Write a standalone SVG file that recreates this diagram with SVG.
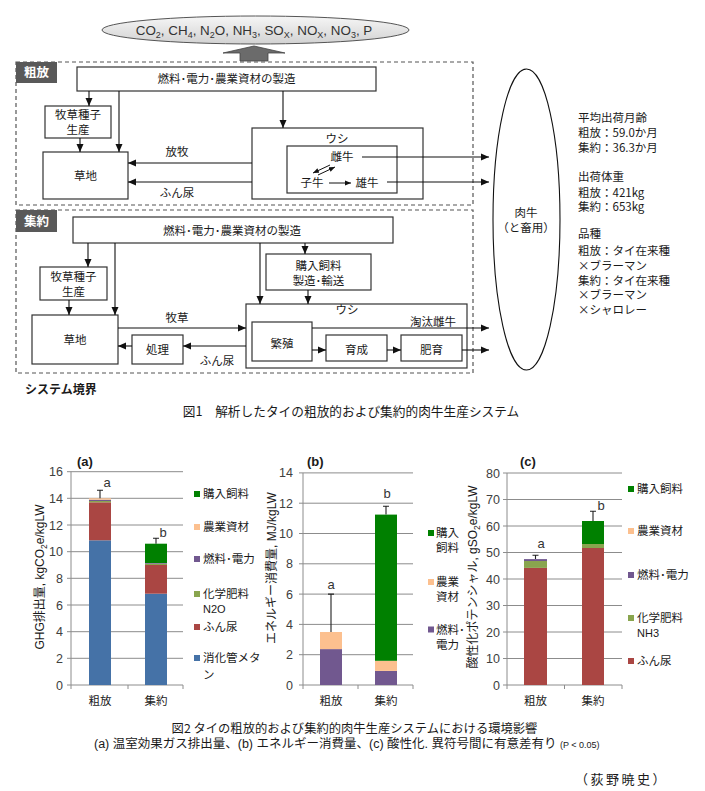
<svg xmlns="http://www.w3.org/2000/svg" width="705" height="791" viewBox="0 0 705 791">
<style>
text{font-family:"Noto Sans CJK JP","Liberation Sans",sans-serif;fill:#1a1a1a}
.t{font-size:11.5px;text-anchor:middle}
.info{font-size:11.5px}
.box{fill:#fff;stroke:#333;stroke-width:1.2}
.ln{stroke:#111;stroke-width:1.1;fill:none}
.arr{stroke:#111;stroke-width:1.1;fill:none;marker-end:url(#ah)}
.sarr{stroke:#111;stroke-width:1;fill:none;marker-end:url(#sah)}
.dash{fill:none;stroke:#555;stroke-width:1.2;stroke-dasharray:4 3}
.tag{fill:#595959}
.tagt{fill:#fff;font-weight:bold;font-size:12.5px;text-anchor:middle}
.num{font-family:"Liberation Sans",Arial,sans-serif;font-size:12.5px;fill:#404040;text-anchor:end}
.grid{stroke:#8c8c8c;stroke-width:1;fill:none}
.ttl{font-family:"Liberation Sans",Arial,sans-serif;font-size:13px;font-weight:bold;fill:#1a1a1a}
.sig{font-family:"Liberation Sans",Arial,sans-serif;font-size:13px;fill:#333;text-anchor:middle}
.leg{font-size:11.5px;fill:#1a1a1a}
.cat{font-size:11.5px;text-anchor:middle}
.ytl{font-family:"Liberation Sans","Noto Sans CJK JP",sans-serif;font-size:12px;text-anchor:middle;fill:#1a1a1a}
.eb{stroke:#222;stroke-width:1.1;fill:none}
.c-blue{fill:#4572A7}.c-red{fill:#AA4643}.c-lg{fill:#89A54E}.c-pu{fill:#71588F}.c-pe{fill:#FCC08F}.c-dg{fill:#008000}
</style>
<defs>
<marker id="ah" viewBox="0 0 8 8" refX="8" refY="4" markerWidth="8" markerHeight="8" markerUnits="userSpaceOnUse" orient="auto"><path d="M0,0.5 L8,4 L0,7.5z" fill="#111"/></marker>
<marker id="sah" viewBox="0 0 6 6" refX="6" refY="3" markerWidth="6" markerHeight="6" markerUnits="userSpaceOnUse" orient="auto"><path d="M0,0.5 L6,3 L0,5.5z" fill="#111"/></marker>
<linearGradient id="eg" x1="0" y1="0" x2="0" y2="1"><stop offset="0" stop-color="#f6f6f6"/><stop offset="1" stop-color="#d2d2d2"/></linearGradient>
</defs>

<!-- Emissions -->
<g id="emissions">
<ellipse cx="255.5" cy="30" rx="153.5" ry="14" fill="url(#eg)" stroke="#555" stroke-width="1"/>
<text x="254" y="34.5" style="font-family:'Liberation Sans',Arial,sans-serif;font-size:13.4px;text-anchor:middle;fill:#333">CO<tspan dy="3" font-size="9">2</tspan><tspan dy="-3">, CH</tspan><tspan dy="3" font-size="9">4</tspan><tspan dy="-3">, N</tspan><tspan dy="3" font-size="9">2</tspan><tspan dy="-3">O, NH</tspan><tspan dy="3" font-size="9">3</tspan><tspan dy="-3">, SO</tspan><tspan dy="3" font-size="9">X</tspan><tspan dy="-3">, NO</tspan><tspan dy="3" font-size="9">X</tspan><tspan dy="-3">, NO</tspan><tspan dy="3" font-size="9">3</tspan><tspan dy="-3">, P</tspan></text>
<polygon points="240,61 240,53 223,53 254,46 285,53 268,53 268,61" fill="#6b6b6b" stroke="#444" stroke-width="0.8"/>
</g>

<!-- Extensive section -->
<g id="extensive-boundary">
<rect x="16" y="62" width="457" height="143" class="dash"/>
<rect x="16" y="62" width="41" height="21" class="tag"/>
<text x="36.5" y="77" class="tagt">粗放</text>
</g>
<g id="ext-fuel"><rect x="77" y="67" width="299" height="24" class="box"/><text x="226.5" y="83" class="t">燃料･電力･農業資材の製造</text></g>
<g id="ext-seed"><rect x="45" y="106" width="66" height="32" class="box"/><text x="78" y="119" class="t">牧草種子</text><text x="78" y="134" class="t">生産</text></g>
<g id="ext-pasture"><rect x="43" y="152" width="85" height="47" class="box"/><text x="85.5" y="180" class="t">草地</text></g>
<g id="ext-cattle"><rect x="252" y="128" width="171" height="71" class="box"/><text x="337" y="143" class="t">ウシ</text>
<rect x="287" y="146" width="110" height="47" class="box"/>
<text x="342" y="161" class="t">雌牛</text><text x="312" y="187" class="t">子牛</text><text x="367" y="187" class="t">雄牛</text></g>

<!-- Intensive section -->
<g id="intensive-boundary">
<rect x="16" y="210" width="457" height="163" class="dash"/>
<rect x="16" y="210" width="41" height="22" class="tag"/>
<text x="36.5" y="226" class="tagt">集約</text>
</g>
<g id="int-fuel"><rect x="73" y="217" width="320" height="26" class="box"/><text x="232" y="235" class="t">燃料･電力･農業資材の製造</text></g>
<g id="int-seed"><rect x="40" y="267" width="67" height="33" class="box"/><text x="73.5" y="281" class="t">牧草種子</text><text x="73.5" y="296" class="t">生産</text></g>
<g id="int-pasture"><rect x="32" y="315" width="86" height="49" class="box"/><text x="75" y="344" class="t">草地</text></g>
<g id="int-feed"><rect x="266" y="254" width="105" height="36" class="box"/><text x="318.5" y="270" class="t">購入飼料</text><text x="318.5" y="285" class="t">製造･輸送</text></g>
<g id="int-treat"><rect x="132" y="335" width="51" height="29" class="box"/><text x="157.5" y="354" class="t">処理</text></g>
<g id="int-cattle"><rect x="246" y="304" width="221" height="64" class="box"/><text x="347" y="314" class="t">ウシ</text>
<rect x="252" y="322" width="60" height="39" class="box"/><text x="282" y="348" class="t">繁殖</text>
<rect x="326" y="335" width="61" height="26" class="box"/><text x="356.5" y="354" class="t">育成</text>
<rect x="401" y="335" width="61" height="26" class="box"/><text x="431.5" y="354" class="t">肥育</text></g>

<g id="boundary-label"><text x="25" y="394" style="font-size:12px;font-weight:bold">システム境界</text></g>

<g id="beef">
<ellipse cx="526.5" cy="219.5" rx="33.5" ry="150.5" fill="#fff" stroke="#111" stroke-width="1.1"/>
<text x="526" y="216.5" class="t">肉牛</text>
<text x="526" y="231.5" class="t">（と畜用）</text>
</g>

<g id="info">
<text x="578" y="122" class="info">平均出荷月齢</text>
<text x="578" y="137" class="info">粗放：59.0か月</text>
<text x="578" y="152" class="info">集約：36.3か月</text>
<text x="578" y="181" class="info">出荷体重</text>
<text x="578" y="196.5" class="info">粗放：421kg</text>
<text x="578" y="211" class="info">集約：653kg</text>
<text x="578" y="238" class="info">品種</text>
<text x="578" y="255" class="info">粗放：タイ在来種</text>
<text x="578" y="269.8" class="info">×ブラーマン</text>
<text x="578" y="284.5" class="info">集約：タイ在来種</text>
<text x="578" y="299" class="info">×ブラーマン</text>
<text x="578" y="313.5" class="info">×シャロレー</text>
</g>

<g id="connectors">
<line x1="89" y1="91" x2="89" y2="106" class="arr"/>
<line x1="119" y1="91" x2="119" y2="152" class="arr"/>
<line x1="283" y1="91" x2="283" y2="128" class="arr"/>
<line x1="80" y1="138" x2="80" y2="152" class="arr"/>
<line x1="252" y1="163" x2="128" y2="163" class="arr"/>
<line x1="252" y1="182" x2="128" y2="182" class="arr"/>
<text x="177" y="156" class="t">放牧</text>
<text x="177" y="197" class="t">ふん尿</text>
<line x1="362" y1="157" x2="489" y2="157" class="arr"/>
<line x1="387" y1="182" x2="489" y2="182" class="arr"/>
<line x1="329" y1="183" x2="351" y2="183" class="sarr"/>
<line x1="330" y1="165" x2="313" y2="173" class="sarr"/>
<line x1="318" y1="175" x2="335" y2="167" class="sarr"/>

<line x1="88" y1="243" x2="88" y2="267" class="arr"/>
<line x1="115" y1="243" x2="115" y2="315" class="arr"/>
<line x1="260" y1="243" x2="260" y2="304" class="arr"/>
<line x1="305" y1="243" x2="305" y2="254" class="arr"/>
<line x1="69" y1="300" x2="69" y2="315" class="arr"/>
<line x1="308" y1="290" x2="308" y2="304" class="arr"/>
<line x1="118" y1="328" x2="246" y2="328" class="arr"/>
<text x="177" y="322" class="t">牧草</text>
<line x1="246" y1="346" x2="183" y2="346" class="arr"/>
<line x1="132" y1="346" x2="118" y2="346" class="arr"/>
<text x="217" y="365" class="t">ふん尿</text>
<line x1="312" y1="328" x2="489" y2="328" class="arr"/>
<text x="433" y="326" class="t">淘汰雌牛</text>
<line x1="312" y1="350" x2="326" y2="350" class="arr"/>
<line x1="387" y1="350" x2="401" y2="350" class="arr"/>
<line x1="462" y1="350" x2="489" y2="350" class="arr"/>
</g>

<g id="fig1-caption"><text x="351" y="416" style="font-size:12.7px;text-anchor:middle">図1　解析したタイの粗放的および集約的肉牛生産システム</text></g>

<!-- Chart (a) -->
<g id="chart-a">
<text x="77" y="466" class="ttl">(a)</text>
<path class="grid" d="M71,658.3H183M71,631.7H183M71,605H183M71,578.3H183M71,551.7H183M71,525H183M71,498.3H183M71,471.7H183"/>
<path class="grid" d="M71,471.7V689M67,685H183M67,658.3H71M67,631.7H71M67,605H71M67,578.3H71M67,551.7H71M67,525H71M67,498.3H71M67,471.7H71M128,685V689M183,685V689"/>
<text x="63" y="689.5" class="num">0</text><text x="63" y="662.8" class="num">2</text><text x="63" y="636.2" class="num">4</text><text x="63" y="609.5" class="num">6</text><text x="63" y="582.8" class="num">8</text><text x="63" y="556.2" class="num">10</text><text x="63" y="529.5" class="num">12</text><text x="63" y="502.8" class="num">14</text><text x="63" y="476.2" class="num">16</text>
<rect x="89" y="540.3" width="22" height="144.7" class="c-blue"/>
<rect x="89" y="502.3" width="22" height="38" class="c-red"/>
<rect x="89" y="501" width="22" height="1.3" class="c-lg"/>
<rect x="89" y="499.7" width="22" height="1.3" class="c-pu"/>
<rect x="89" y="498.3" width="22" height="1.4" class="c-pe"/>
<path class="eb" d="M100,498.3V490.3M97,490.3H103"/>
<text x="107" y="486.5" class="sig">a</text>
<rect x="145" y="593.7" width="22" height="91.3" class="c-blue"/>
<rect x="145" y="565" width="22" height="28.7" class="c-red"/>
<rect x="145" y="563.7" width="22" height="1.3" class="c-lg"/>
<rect x="145" y="563" width="22" height="0.7" class="c-pu"/>
<rect x="145" y="543.7" width="22" height="19.3" class="c-dg"/>
<path class="eb" d="M156,543.7V538.3M153,538.3H159"/>
<text x="163" y="536.5" class="sig">b</text>
<text x="100" y="704.5" class="cat">粗放</text><text x="156" y="704.5" class="cat">集約</text>
<text transform="translate(44,577) rotate(-90)" class="ytl">GHG排出量, kgCO<tspan dy="2.5" font-size="8.5">2</tspan><tspan dy="-2.5">e/kgLW</tspan></text>
<rect x="194" y="491" width="6" height="6" class="c-dg"/><text x="203" y="498" class="leg">購入飼料</text>
<rect x="194" y="524" width="6" height="6" class="c-pe"/><text x="203" y="531" class="leg">農業資材</text>
<rect x="194" y="556" width="6" height="6" class="c-pu"/><text x="203" y="563" class="leg">燃料･電力</text>
<rect x="194" y="591" width="6" height="6" class="c-lg"/><text x="203" y="598" class="leg">化学肥料</text><text x="203" y="613" class="leg" style="font-family:'Liberation Sans',sans-serif;font-size:11px">N2O</text>
<rect x="194" y="624" width="6" height="6" class="c-red"/><text x="203" y="631" class="leg">ふん尿</text>
<rect x="194" y="655" width="6" height="6" class="c-blue"/><text x="203" y="662" class="leg">消化管メタ</text><text x="203" y="679" class="leg">ン</text>
</g>

<!-- Chart (b) -->
<g id="chart-b">
<text x="307" y="466" class="ttl">(b)</text>
<path class="grid" d="M303,654.7H413M303,624.4H413M303,594.1H413M303,563.8H413M303,533.5H413M303,503.2H413M303,472.9H413"/>
<path class="grid" d="M303,472.9V689M299,685H413M299,654.7H303M299,624.4H303M299,594.1H303M299,563.8H303M299,533.5H303M299,503.2H303M299,472.9H303M358,685V689M413,685V689"/>
<text x="293" y="689.5" class="num">0</text><text x="293" y="659.2" class="num">2</text><text x="293" y="628.9" class="num">4</text><text x="293" y="598.6" class="num">6</text><text x="293" y="568.3" class="num">8</text><text x="293" y="538" class="num">10</text><text x="293" y="507.7" class="num">12</text><text x="293" y="477.4" class="num">14</text>
<rect x="320" y="649.1" width="22" height="35.9" class="c-pu"/>
<rect x="320" y="632" width="22" height="17.1" class="c-pe"/>
<path class="eb" d="M331,632V594.1M328,594.1H334"/>
<text x="331" y="588.5" class="sig">a</text>
<rect x="375" y="670.9" width="22" height="14.1" class="c-pu"/>
<rect x="375" y="660.8" width="22" height="10.1" class="c-pe"/>
<rect x="375" y="514.6" width="22" height="146.2" class="c-dg"/>
<path class="eb" d="M386,514.6V506.2M383,506.2H389"/>
<text x="387" y="497.5" class="sig">b</text>
<text x="331" y="704.5" class="cat">粗放</text><text x="386" y="704.5" class="cat">集約</text>
<text transform="translate(276,568) rotate(-90)" class="ytl">エネルギー消費量, MJ/kgLW</text>
<rect x="428" y="530" width="6" height="6" class="c-dg"/><text x="436" y="537" class="leg">購入</text><text x="436" y="552" class="leg">飼料</text>
<rect x="428" y="579" width="6" height="6" class="c-pe"/><text x="436" y="586" class="leg">農業</text><text x="436" y="601" class="leg">資材</text>
<rect x="428" y="626.5" width="6" height="6" class="c-pu"/><text x="436" y="633.5" class="leg">燃料･</text><text x="436" y="648.5" class="leg">電力</text>
</g>

<!-- Chart (c) -->
<g id="chart-c">
<text x="520" y="466" class="ttl">(c)</text>
<path class="grid" d="M507,658.5H622M507,632H622M507,605.5H622M507,579H622M507,552.5H622M507,526H622M507,499.5H622M507,473H622"/>
<path class="grid" d="M507,473V689M503,685H622M503,658.5H507M503,632H507M503,605.5H507M503,579H507M503,552.5H507M503,526H507M503,499.5H507M503,473H507M564.5,685V689M622,685V689"/>
<text x="500" y="689.5" class="num">0</text><text x="500" y="663" class="num">10</text><text x="500" y="636.5" class="num">20</text><text x="500" y="610" class="num">30</text><text x="500" y="583.5" class="num">40</text><text x="500" y="557" class="num">50</text><text x="500" y="530.5" class="num">60</text><text x="500" y="504" class="num">70</text><text x="500" y="477.5" class="num">80</text>
<rect x="524" y="567.9" width="23" height="117.1" class="c-red"/>
<rect x="524" y="561" width="23" height="6.9" class="c-lg"/>
<rect x="524" y="559.1" width="23" height="1.9" class="c-pu"/>
<path class="eb" d="M535.5,559.1V555.2M532.5,555.2H538.5"/>
<text x="541" y="547.5" class="sig">a</text>
<rect x="582" y="548" width="22" height="137" class="c-red"/>
<rect x="582" y="544" width="22" height="4" class="c-lg"/>
<rect x="582" y="521" width="22" height="23" class="c-dg"/>
<path class="eb" d="M593,521V511.2M590,511.2H596"/>
<text x="601" y="509.5" class="sig">b</text>
<text x="535.5" y="704.5" class="cat">粗放</text><text x="593" y="704.5" class="cat">集約</text>
<text transform="translate(477,577) rotate(-90)" class="ytl">酸性化ポテンシャル, gSO<tspan dy="2.5" font-size="8.5">2</tspan><tspan dy="-2.5">e/kgLW</tspan></text>
<rect x="628" y="486" width="6" height="6" class="c-dg"/><text x="637" y="493" class="leg">購入飼料</text>
<rect x="628" y="528" width="6" height="6" class="c-pe"/><text x="637" y="535" class="leg">農業資材</text>
<rect x="628" y="572" width="6" height="6" class="c-pu"/><text x="637" y="579" class="leg">燃料･電力</text>
<rect x="628" y="615" width="6" height="6" class="c-lg"/><text x="637" y="622" class="leg">化学肥料</text><text x="637" y="637" class="leg" style="font-family:'Liberation Sans',sans-serif;font-size:11px">NH3</text>
<rect x="628" y="658" width="6" height="6" class="c-red"/><text x="637" y="665" class="leg">ふん尿</text>
</g>

<g id="fig2-caption">
<text x="354.5" y="733" style="font-size:12.3px;text-anchor:middle">図2 タイの粗放的および集約的肉牛生産システムにおける環境影響</text>
<text x="94" y="747.5" style="font-family:'Liberation Sans','Noto Sans CJK JP',sans-serif;font-size:12.5px">(a) 温室効果ガス排出量、(b) エネルギー消費量、(c) 酸性化. 異符号間に有意差有り <tspan font-size="9">(P &lt; 0.05)</tspan></text>
<text x="575" y="784" style="font-size:13px;letter-spacing:2.5px">（荻野暁史）</text>
</g>
</svg>
